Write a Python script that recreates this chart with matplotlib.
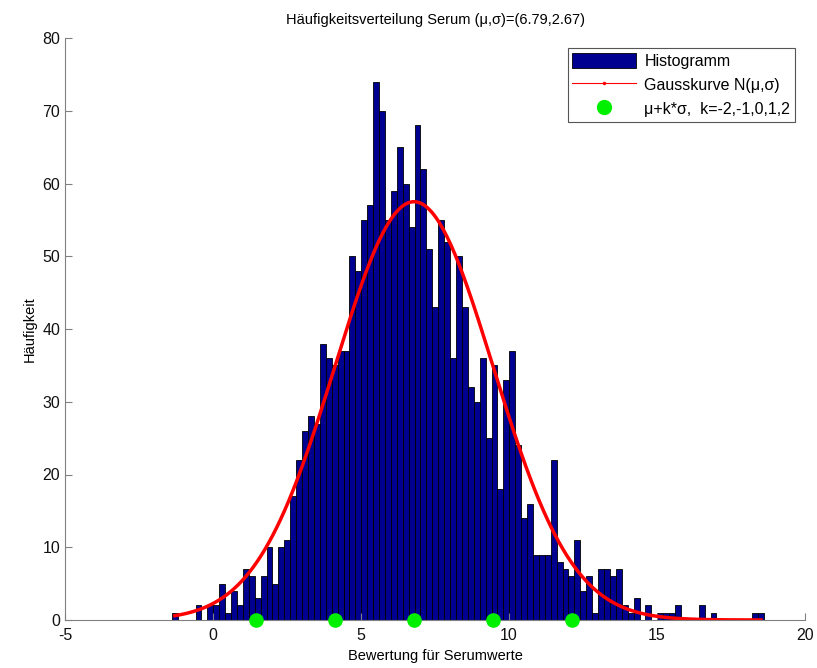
import numpy as np
import matplotlib
matplotlib.use("Agg")
import matplotlib.pyplot as plt
from matplotlib.patches import Patch
from matplotlib.lines import Line2D

plt.rcParams['font.family'] = ['Liberation Sans', 'DejaVu Sans']
plt.rcParams['axes.unicode_minus'] = False

# histogram data (100 bins, width 0.2)
x0 = -1.39
bin_w = 0.2
counts = [1, 0, 0, 0, 2, 0, 2, 2, 5, 1,
          4, 2, 7, 6, 3, 6, 10, 5, 10, 11,
          17, 22, 26, 28, 27, 38, 36, 35, 37, 37,
          50, 48, 55, 57, 74, 70, 55, 59, 65, 60,
          54, 68, 62, 51, 43, 55, 52, 36, 50, 43,
          32, 30, 36, 25, 35, 18, 33, 37, 24, 14,
          16, 9, 9, 9, 22, 8, 7, 6, 11, 4,
          6, 1, 7, 7, 6, 7, 2, 1, 3, 0,
          2, 0, 1, 1, 1, 2, 0, 0, 0, 2,
          0, 1, 0, 0, 0, 0, 0, 0, 1, 1]
mu = 6.79
sigma = 2.67
ks = [-2, -1, 0, 1, 2]

counts = np.array(counts)
centers = x0 + bin_w * (np.arange(len(counts)) + 0.5)
n_total = counts.sum()

fig = plt.figure(figsize=(8.17, 6.68), dpi=100)
ax = fig.add_axes([65 / 817, 48 / 668, 740 / 817, 582 / 668])

ax.bar(centers, counts, width=bin_w, color='#000090', edgecolor='black',
       linewidth=0.6)

# gauss curve scaled to histogram
xs = np.linspace(centers[0], centers[-1], 300)
ys = n_total * bin_w / (sigma * np.sqrt(2 * np.pi)) * np.exp(-0.5 * ((xs - mu) / sigma) ** 2)
ax.plot(xs, ys, color='red', linewidth=2.5)

pts = [mu + k * sigma for k in ks]
ax.plot(pts, [0] * len(pts), 'o', color='#00f000', markersize=9.5, clip_on=False,
        zorder=5)

ax.set_xlim(-5, 20)
ax.set_ylim(0, 80)
ax.set_xticks(range(-5, 21, 5))
ax.set_yticks(range(0, 81, 10))
for s in ['top', 'right']:
    ax.spines[s].set_visible(False)
for s in ['left', 'bottom']:
    ax.spines[s].set_color('#808080')
ax.tick_params(direction='in', length=5, color='#808080', labelsize=11.5,
               labelcolor='#111111')
ax.tick_params(axis='x', pad=6)

ax.set_title('Häufigkeitsverteilung Serum (μ,σ)=(6.79,2.67)', fontsize=10.5,
             pad=10)
ax.set_xlabel('Bewertung für Serumwerte', fontsize=10.5, labelpad=4)
ax.set_ylabel('Häufigkeit', fontsize=10.5, labelpad=4)

handles = [Patch(facecolor='#000090', edgecolor='black', linewidth=0.6),
           Line2D([], [], color='red', linewidth=0.8, marker='.', markersize=3),
           Line2D([], [], color='#00f000', marker='o', linestyle='none',
                  markersize=10)]
labels = ['Histogramm', 'Gausskurve N(μ,σ)', 'μ+k*σ,  k=-2,-1,0,1,2']
leg = ax.legend(handles, labels, loc='upper right', bbox_to_anchor=(0.9865, 0.983),
                fontsize=11.5, fancybox=False, framealpha=1, edgecolor='#555555',
                handlelength=4.0, handleheight=1.1, borderpad=0.3,
                labelspacing=0.5, handletextpad=0.5, borderaxespad=0)
leg.get_frame().set_linewidth(0.8)

fig.savefig('out.png', dpi=100)
